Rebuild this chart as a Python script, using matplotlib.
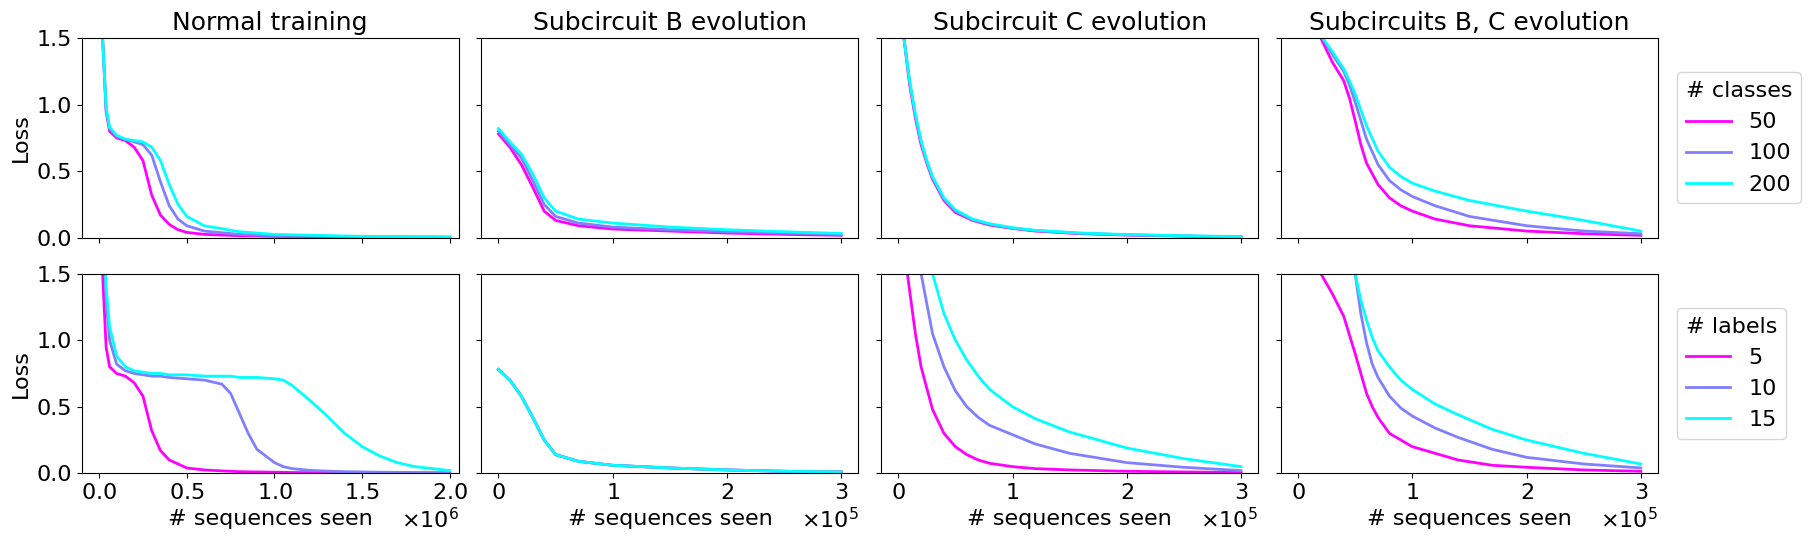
import numpy as np
import matplotlib.pyplot as plt
from matplotlib.ticker import ScalarFormatter

plt.rcParams['font.size'] = 16

COLORS = [plt.cm.cool(1.0), plt.cm.cool(0.5), plt.cm.cool(0.0)]
TITLES = ['Normal training', 'Subcircuit B evolution', 'Subcircuit C evolution', 'Subcircuits B, C evolution']
CLASS_LABELS = ['50', '100', '200']
LABEL_LABELS = ['5', '10', '15']

# --- Normal training (x in sequences) ---
nt_x = [0.0, 0.02e6, 0.04e6, 0.06e6, 0.1e6, 0.15e6, 0.2e6, 0.25e6, 0.3e6, 0.35e6, 0.4e6, 0.45e6, 0.5e6, 0.6e6, 0.8e6, 1.0e6, 1.5e6, 2.0e6]
nt_50 = [2.5, 1.5, 0.95, 0.8, 0.75, 0.73, 0.68, 0.58, 0.32, 0.17, 0.1, 0.06, 0.04, 0.025, 0.015, 0.01, 0.005, 0.003]
nt_100 = [2.5, 1.5, 0.97, 0.82, 0.76, 0.74, 0.72, 0.7, 0.62, 0.42, 0.24, 0.14, 0.09, 0.05, 0.025, 0.015, 0.008, 0.004]
nt_200 = [2.5, 1.5, 0.98, 0.83, 0.77, 0.74, 0.73, 0.72, 0.68, 0.58, 0.4, 0.25, 0.16, 0.09, 0.045, 0.025, 0.01, 0.005]

nt2_x = [0.0, 0.02e6, 0.04e6, 0.06e6, 0.1e6, 0.15e6, 0.2e6, 0.25e6, 0.3e6, 0.35e6, 0.4e6, 0.5e6, 0.6e6, 0.7e6, 0.75e6, 0.8e6, 0.85e6, 0.9e6, 1.0e6,
         1.05e6, 1.1e6, 1.2e6, 1.3e6, 1.4e6, 1.5e6, 1.6e6, 1.7e6, 1.8e6, 2.0e6]
nt_5 = [2.5, 1.5, 0.95, 0.8, 0.75, 0.73, 0.68, 0.58, 0.32, 0.17, 0.1, 0.04, 0.025, 0.018, 0.015, 0.012, 0.011, 0.01, 0.008,
        0.007, 0.006, 0.005, 0.004, 0.004, 0.003, 0.003, 0.003, 0.002, 0.002]
nt_10 = [3.0, 2.0, 1.3, 1.0, 0.82, 0.77, 0.75, 0.74, 0.73, 0.73, 0.72, 0.71, 0.7, 0.67, 0.6, 0.45, 0.3, 0.18, 0.08,
         0.05, 0.035, 0.022, 0.016, 0.012, 0.01, 0.008, 0.007, 0.006, 0.005]
nt_15 = [3.0, 2.0, 1.4, 1.1, 0.88, 0.8, 0.77, 0.76, 0.75, 0.75, 0.74, 0.74, 0.73, 0.73, 0.73, 0.72, 0.72, 0.72, 0.71,
         0.7, 0.66, 0.55, 0.43, 0.3, 0.2, 0.13, 0.08, 0.05, 0.02]

# --- Subcircuit B (x in sequences) ---
b_x = [0.0, 0.1e5, 0.2e5, 0.3e5, 0.4e5, 0.5e5, 0.7e5, 1.0e5, 1.5e5, 2.0e5, 2.5e5, 3.0e5]
b_50 = [0.78, 0.68, 0.55, 0.38, 0.2, 0.13, 0.09, 0.065, 0.05, 0.035, 0.025, 0.018]
b_100 = [0.8, 0.7, 0.6, 0.43, 0.25, 0.16, 0.11, 0.08, 0.06, 0.045, 0.035, 0.025]
b_200 = [0.82, 0.72, 0.63, 0.48, 0.3, 0.2, 0.14, 0.11, 0.08, 0.06, 0.045, 0.032]
b_lab = [0.78, 0.7, 0.58, 0.42, 0.25, 0.14, 0.09, 0.06, 0.04, 0.025, 0.015, 0.01]

# --- Subcircuit C ---
c_x = [0.0, 0.05e5, 0.1e5, 0.15e5, 0.2e5, 0.25e5, 0.3e5, 0.4e5, 0.5e5, 0.65e5, 0.8e5, 1.0e5, 1.2e5, 1.6e5, 2.0e5, 2.5e5, 3.0e5]
c_50 = [2.2, 1.5, 1.15, 0.9, 0.7, 0.56, 0.44, 0.28, 0.19, 0.13, 0.095, 0.07, 0.05, 0.03, 0.02, 0.012, 0.006]
c_100 = [2.2, 1.5, 1.17, 0.92, 0.72, 0.57, 0.45, 0.29, 0.2, 0.135, 0.1, 0.072, 0.053, 0.033, 0.022, 0.013, 0.007]
c_200 = [2.2, 1.5, 1.18, 0.93, 0.73, 0.58, 0.46, 0.3, 0.21, 0.14, 0.105, 0.075, 0.056, 0.035, 0.024, 0.015, 0.008]

c2_x = [0.0, 0.08e5, 0.15e5, 0.2e5, 0.3e5, 0.4e5, 0.5e5, 0.6e5, 0.7e5, 0.8e5, 1.0e5, 1.2e5, 1.5e5, 2.0e5, 2.5e5, 3.0e5]
c_5 = [3.0, 1.5, 1.05, 0.8, 0.48, 0.3, 0.2, 0.14, 0.1, 0.075, 0.05, 0.035, 0.025, 0.015, 0.01, 0.006]
c_10 = [4.0, 2.5, 1.8, 1.5, 1.05, 0.8, 0.62, 0.5, 0.42, 0.36, 0.29, 0.22, 0.15, 0.08, 0.045, 0.02]
c_15 = [5.0, 3.5, 2.4, 2.0, 1.5, 1.2, 1.0, 0.85, 0.73, 0.63, 0.5, 0.41, 0.31, 0.19, 0.11, 0.05]

# --- Subcircuits B, C ---
bc_x = [0.0, 0.2e5, 0.3e5, 0.4e5, 0.45e5, 0.5e5, 0.55e5, 0.6e5, 0.7e5, 0.8e5, 0.9e5, 1.0e5, 1.2e5, 1.5e5, 2.0e5, 2.5e5, 3.0e5]
bc_50 = [2.0, 1.5, 1.32, 1.18, 1.05, 0.88, 0.7, 0.56, 0.4, 0.3, 0.24, 0.2, 0.14, 0.09, 0.05, 0.03, 0.018]
bc_100 = [2.0, 1.52, 1.38, 1.25, 1.15, 1.02, 0.88, 0.74, 0.55, 0.43, 0.36, 0.31, 0.24, 0.16, 0.09, 0.05, 0.03]
bc_200 = [2.0, 1.52, 1.4, 1.27, 1.18, 1.08, 0.96, 0.84, 0.65, 0.53, 0.46, 0.41, 0.35, 0.28, 0.2, 0.13, 0.05]

bc2_x = [0.0, 0.2e5, 0.3e5, 0.4e5, 0.5e5, 0.55e5, 0.6e5, 0.65e5, 0.7e5, 0.8e5, 0.9e5, 1.0e5, 1.2e5, 1.4e5, 1.7e5, 2.0e5, 2.5e5, 3.0e5]
bc_5 = [2.0, 1.5, 1.35, 1.18, 0.9, 0.75, 0.6, 0.5, 0.42, 0.3, 0.25, 0.2, 0.15, 0.1, 0.06, 0.045, 0.025, 0.015]
bc_10 = [4.0, 3.0, 2.5, 2.0, 1.5, 1.2, 0.98, 0.82, 0.72, 0.58, 0.49, 0.43, 0.34, 0.27, 0.18, 0.12, 0.07, 0.04]
bc_15 = [4.0, 3.0, 2.5, 2.0, 1.5, 1.3, 1.15, 1.02, 0.92, 0.8, 0.7, 0.63, 0.52, 0.44, 0.33, 0.25, 0.15, 0.07]

top = [(nt_x, [nt_50, nt_100, nt_200]), (b_x, [b_50, b_100, b_200]),
       (c_x, [c_50, c_100, c_200]), (bc_x, [bc_50, bc_100, bc_200])]
bottom = [(nt2_x, [nt_5, nt_10, nt_15]), (b_x, [b_lab, b_lab, b_lab]),
          (c2_x, [c_5, c_10, c_15]), (bc2_x, [bc_5, bc_10, bc_15])]

fig, axes = plt.subplots(2, 4, figsize=(18.12, 5.44), dpi=100, sharey=True, sharex='col')
fig.subplots_adjust(left=0.045, right=0.915, top=0.93, bottom=0.13, wspace=0.06, hspace=0.18)

for row, (data, labels) in enumerate([(top, CLASS_LABELS), (bottom, LABEL_LABELS)]):
    for col, (x, ys) in enumerate(data):
        ax = axes[row, col]
        for y, c, lab in zip(ys, COLORS, labels):
            ax.plot(x, y, color=c, linewidth=2, label=lab)
        ax.set_ylim(0, 1.5)
        ax.set_yticks([0.0, 0.5, 1.0, 1.5])
        fmt = ScalarFormatter(useMathText=True)
        fmt.set_powerlimits((0, 0))
        ax.xaxis.set_major_formatter(fmt)
        if row == 0:
            ax.set_title(TITLES[col], fontsize=18)
        else:
            ax.set_xlabel('# sequences seen')
        if col == 0:
            ax.set_ylabel('Loss')

axes[0, 0].set_xlim(-0.1e6, 2.05e6)
for col in range(1, 4):
    axes[0, col].set_xlim(-0.15e5, 3.15e5)
    axes[0, col].set_xticks([0, 1e5, 2e5, 3e5])
axes[0, 0].set_xticks([0, 0.5e6, 1.0e6, 1.5e6, 2.0e6])

axes[0, 3].legend(title='# classes', loc='center left', bbox_to_anchor=(1.02, 0.5))
axes[1, 3].legend(title='# labels', loc='center left', bbox_to_anchor=(1.02, 0.5))

plt.savefig('out.png')
